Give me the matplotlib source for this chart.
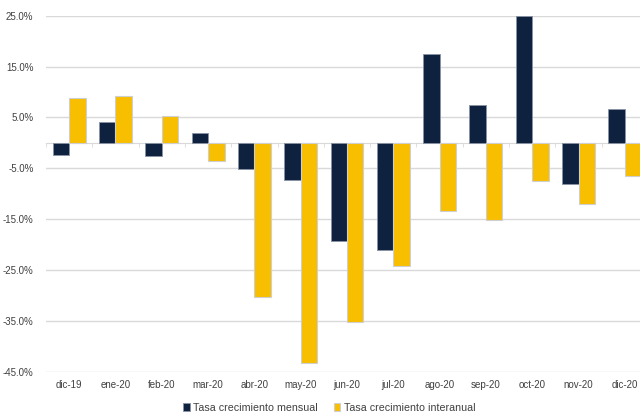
import matplotlib.pyplot as plt
import numpy as np
from matplotlib.ticker import FuncFormatter, MultipleLocator

plt.rcParams['font.family'] = ['Liberation Sans', 'DejaVu Sans']

months = ['dic-19', 'ene-20', 'feb-20', 'mar-20', 'abr-20', 'may-20', 'jun-20',
          'jul-20', 'ago-20', 'sep-20', 'oct-20', 'nov-20', 'dic-20']
mensual = [-2.3, 4.1, -2.5, 2.0, -5.1, -7.3, -19.3, -21.1, 17.5, 7.5, 25.0, -8.0, 6.7]
interanual = [8.8, 9.2, 5.2, -3.6, -30.3, -43.2, -35.1, -24.2, -13.4, -15.2, -7.4, -12.0, -6.5]

navy = '#0e2240'
gold = '#f8be00'
grid_c = '#d9d9d9'
text_c = '#404040'

fig = plt.figure(figsize=(6.4, 4.13), dpi=100)
ax = fig.add_axes([0.0719, 0.0993, 0.9406, 0.8627])

x = np.arange(len(months))
w = 0.356
ax.bar(x - w / 2, mensual, w, color=navy, edgecolor='#8a93a3', linewidth=0.6,
       label='Tasa crecimiento mensual', zorder=3)
ax.bar(x + w / 2, interanual, w, color=gold, edgecolor='#cfcfcf', linewidth=0.8,
       label='Tasa crecimiento interanual', zorder=3)

ax.set_xlim(-0.5, len(months) - 0.5)
ax.set_ylim(-45, 25)
ax.set_yticks(np.arange(-45, 26, 10))
ax.yaxis.set_major_formatter(FuncFormatter(lambda v, p: f'{v:.1f}%'))
ax.tick_params(axis='y', length=0, labelsize=7, labelcolor=text_c, pad=9)
ax.grid(axis='y', color=grid_c, linewidth=1, zorder=0)
for s in ['top', 'right', 'left']:
    ax.spines[s].set_visible(False)

# category axis crosses at zero, small ticks between categories
ax.spines['bottom'].set_position(('data', 0))
ax.spines['bottom'].set_color(grid_c)
ax.spines['bottom'].set_zorder(2)
ax.set_xticks([])
ax.xaxis.set_minor_locator(MultipleLocator(1, offset=0.5))
ax.tick_params(axis='x', which='minor', length=3, color=grid_c, direction='out')

# month labels sit at the bottom of the plot
sec = ax.secondary_xaxis(0.0)
sec.set_xticks(x)
sec.set_xticklabels(months)
sec.tick_params(length=0, labelsize=7, labelcolor=text_c, pad=6)
sec.spines['bottom'].set_visible(False)

fig.legend(loc='center', bbox_to_anchor=(0.514, 0.013), ncol=2, frameon=False,
           fontsize=7.7, labelcolor=text_c, handlelength=0.65, handleheight=0.75,
           handletextpad=0.3, columnspacing=1.5)

fig.savefig('out.png', dpi=100)
